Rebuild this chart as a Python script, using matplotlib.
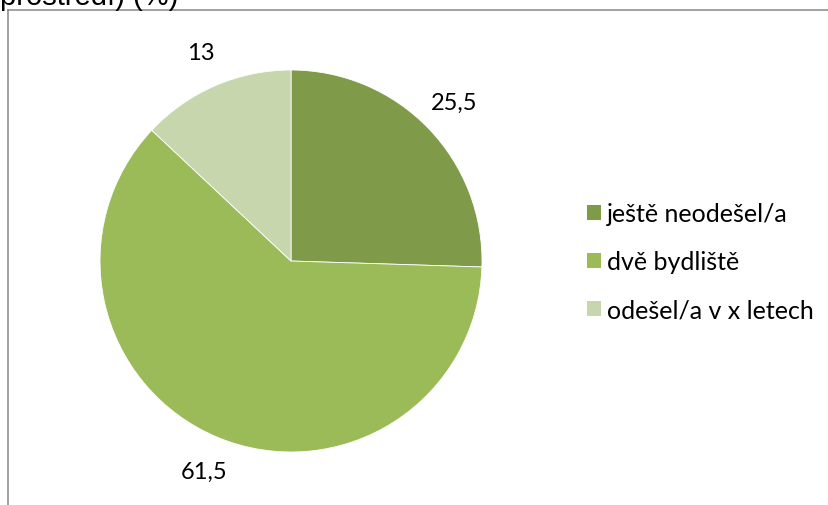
import matplotlib
matplotlib.use("Agg")
import matplotlib.pyplot as plt
from matplotlib.lines import Line2D
from matplotlib.patches import Patch

categories = ["ještě neodešel/a", "dvě bydliště", "odešel/a v x letech"]
values = [25.5, 61.5, 13]
value_labels = ["25,5", "61,5", "13"]
colors = ["#7F9B4A", "#9BBB59", "#C8D6AD"]
title_tail = "prostředí) (%)"

W, H = 829, 506
fig = plt.figure(figsize=(W / 100, H / 100), dpi=100)
fig.patch.set_facecolor("white")

cx, cy, r = 291, 262, 191
ax = fig.add_axes([(cx - r) / W, (H - cy - r) / H, 2 * r / W, 2 * r / H])
wedges, texts = ax.pie(values, labels=value_labels, colors=colors, startangle=90,
                       counterclock=False, labeldistance=1.19,
                       wedgeprops=dict(edgecolor="white", linewidth=0.6),
                       textprops=dict(fontsize=17, family="Lato", color="#000000"))
for t in texts:
    t.set_ha("center")
    t.set_va("center")
ax.set_xlim(-1, 1)
ax.set_ylim(-1, 1)
ax.set_aspect("equal")
ax.axis("off")

handles = [Patch(facecolor=c, edgecolor="none") for c in colors]
fig.legend(handles, categories, loc="center left",
           bbox_to_anchor=(587 / W, 1 - 263 / H), frameon=False,
           prop=dict(family="Lato", size=18), handlelength=0.56, handleheight=0.56,
           handletextpad=0.25, labelspacing=1.0, borderpad=0, borderaxespad=0)

# chart frame (partially visible)
fig.add_artist(Line2D([8.5 / W, 8.5 / W], [0, 1 - 11 / H], color="#878787", lw=1.1,
                      transform=fig.transFigure))
fig.add_artist(Line2D([8 / W, 1], [1 - 11 / H, 1 - 11 / H], color="#878787", lw=1.1,
                      transform=fig.transFigure))

fig.text(0 / W, 1 - 5 / H, title_tail, fontsize=21, family="Liberation Sans",
         ha="left", va="baseline", color="#000000")

fig.savefig("out.png", dpi=100)
